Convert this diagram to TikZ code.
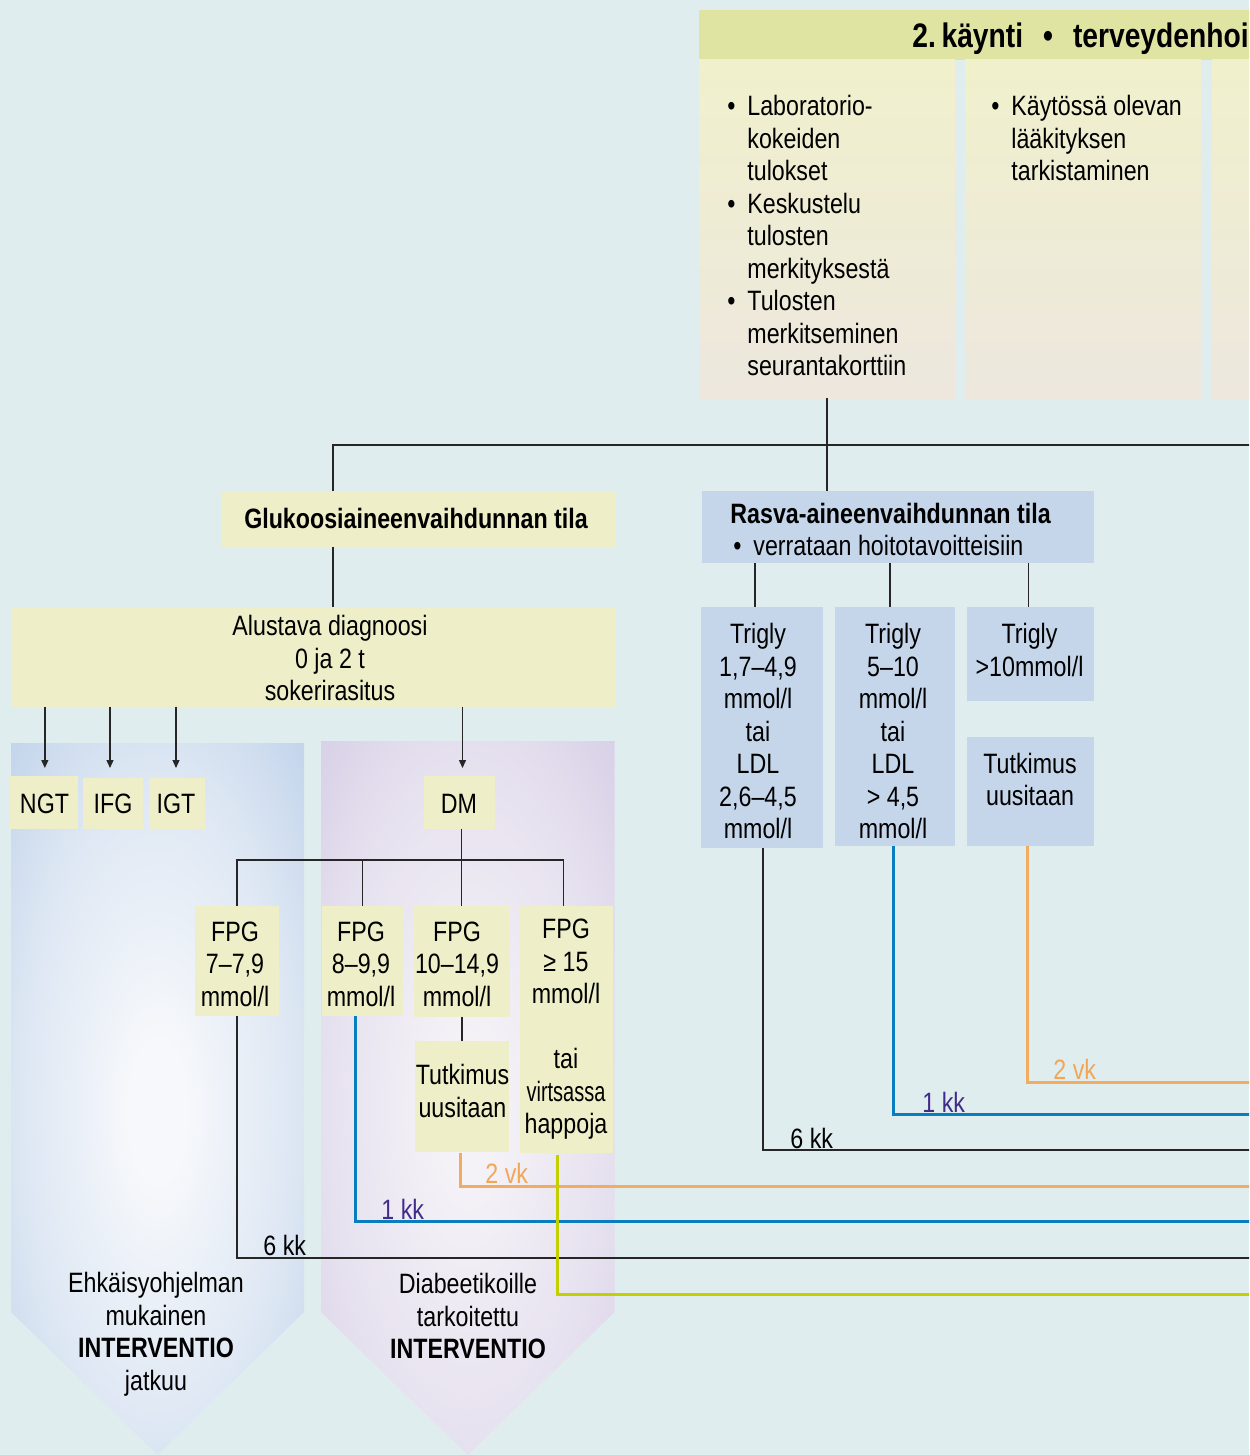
\documentclass[tikz,border=0pt]{standalone}
\usepackage{fontspec}
\usepackage{graphicx}
\setmainfont[FakeStretch=0.83]{Liberation Sans}
\usetikzlibrary{arrows.meta,fit,calc}
\definecolor{bg}{RGB}{224,237,238}
\definecolor{ybox}{RGB}{238,239,200}
\definecolor{bbox}{RGB}{197,214,234}
\definecolor{hdr}{RGB}{223,228,162}
\definecolor{coltop}{RGB}{240,240,204}
\definecolor{colbot}{RGB}{237,231,222}
\definecolor{lblue}{RGB}{10,125,190}
\definecolor{lorange}{RGB}{242,172,96}
\definecolor{lgreen}{RGB}{196,207,0}
\definecolor{kkpur}{RGB}{64,44,138}
\definecolor{vkor}{RGB}{242,166,86}
\definecolor{pbout}{RGB}{194,212,235}
\definecolor{pbin}{RGB}{246,248,251}
\colorlet{pbmid}{pbout!50!pbin}
\definecolor{ppout}{RGB}{216,208,231}
\definecolor{ppin}{RGB}{244,242,247}
\colorlet{ppmid}{ppout!50!ppin}
\pgfdeclareradialshading{blueglow}{\pgfpoint{0bp}{-1bp}}{color(0bp)=(pbin); color(5bp)=(pbin); color(24bp)=(pbmid); color(36bp)=(pbout); color(50bp)=(pbout)}
\pgfdeclareradialshading{purpleglow}{\pgfpoint{0bp}{-1bp}}{color(0bp)=(ppin); color(5bp)=(ppin); color(24bp)=(ppmid); color(36bp)=(ppout); color(50bp)=(ppout)}
\newcommand{\rfont}{\fontsize{14}{16.25}\selectfont}
\newcommand{\bul}{\makebox[10pt][l]{\textbullet}}
\newcommand{\ind}{\hspace*{10pt}}
\begin{document}
\begin{tikzpicture}[x=0.5pt,y=-0.5pt,
  box/.style={inner sep=0pt, outer sep=0pt, draw=none},
  ybx/.style={box, fill=ybox},
  bbx/.style={box, fill=bbox},
  colbox/.style={box, top color=coltop, bottom color=colbot},
  txt/.style={font=\rfont, align=center, inner sep=0pt, text=black, anchor=north},
  ltxt/.style={font=\rfont, align=left, inner sep=0pt, text=black, anchor=north west},
  ln/.style={draw=black!85, line width=0.65pt},
  arr/.style={ln, -{Triangle[length=4pt,width=3.5pt]}},
  blk/.style={draw=black!85, line width=0.75pt},
  blu/.style={draw=lblue, line width=1.5pt},
  org/.style={draw=lorange, line width=1.5pt},
  grn/.style={draw=lgreen, line width=1.5pt},
  lab/.style={font=\rfont, inner sep=0pt, anchor=base west}]

\useasboundingbox (0,0) rectangle (1249,1455);
\clip (0,0) rectangle (1249,1455);
\fill[bg] (0,0) rectangle (1249,1455);

% intervention arrows (pentagons)
\shade[shading=blueglow] (11,743) -- (304,743) -- (304,1312) -- (157.5,1455) -- (11,1312) -- cycle;
\shade[shading=purpleglow] (321,741) -- (614.5,741) -- (614.5,1312) -- (467.8,1455) -- (321,1312) -- cycle;

% header and columns
\node[box, fill=hdr, fit={(699,10) (1262,60)}] (hdr) {};
\node[colbox, fit={(699,60) (955,398)}] (col1) {};
\node[colbox, fit={(965,60) (1201,398)}] (col2) {};
\node[colbox, fit={(1212,60) (1262,398)}] (col3) {};

% glucose side
\node[ybx, fit={(222,491) (614.5,546.5)}] (gluk) {};
\node[ybx, fit={(11,606.5) (614.5,706.5)}] (alust) {};
\node[ybx, fit={(10,776) (77.7,828.7)}] (ngt) {};
\node[ybx, fit={(83,778) (143,828.7)}] (ifg) {};
\node[ybx, fit={(149,778) (205,828.7)}] (igt) {};
\node[ybx, fit={(424,776) (495,828.7)}] (dm) {};
\node[ybx, fit={(195,905.7) (279,1015.7)}] (fpga) {};
\node[ybx, fit={(321.7,905.7) (402.7,1015.7)}] (fpgb) {};
\node[ybx, fit={(414,905.7) (510,1016.7)}] (fpgc) {};
\node[ybx, fit={(520,905.7) (613.3,1153)}] (fpgd) {};
\node[ybx, fit={(415,1041) (509,1151.7)}] (tutl) {};

% lipid side
\node[bbx, fit={(701.8,491) (1094,563.3)}] (rasva) {};
\node[bbx, fit={(701,606.7) (823,847.7)}] (tra) {};
\node[bbx, fit={(835,606.7) (955,845.7)}] (trb) {};
\node[bbx, fit={(967,606.7) (1094,700.7)}] (trc) {};
\node[bbx, fit={(967,737) (1094,845.7)}] (tutr) {};

% black connectors
\coordinate (hl) at (333,445);
\coordinate (hr) at (1262,445);
\draw[ln] (col1.south) -- (col1.south |- rasva.north);
\draw[ln] (gluk.north -| hl) -- (hl) -- (hr);
\draw[ln] (gluk.south -| hl) -- (alust.north -| hl);
\foreach \n/\dx in {ngt/1, ifg/-3, igt/-1, dm/3}
  \draw[arr] ($(alust.south -| \n.north)+(\dx,0)$) -- ($(\n.north |- ngt.north)+(\dx,-8)$);
\coordinate (bar) at (461.7,860);
\coordinate (barr) at (563.3,860);
\draw[ln] (dm.south -| bar) -- (fpgc.north -| bar);
\draw[ln] (fpga.north) |- (barr) -- (barr |- fpgd.north);
\draw[ln] (fpgb.north) -- (fpgb.north |- bar);
\draw[ln] (fpgc.south) -- (tutl.north);
\foreach \n/\dx in {tra/-7, trb/-5, trc/-2}
  \draw[ln] ($(rasva.south -| \n.north)+(\dx,0)$) -- ($(\n.north)+(\dx,0)$);

% follow-up connectors
\coordinate (eA) at (1262,1258);
\coordinate (eB) at (1262,1221);
\coordinate (eC) at (1262,1186);
\coordinate (eD) at (1262,1294);
\coordinate (eE) at (1262,1150);
\coordinate (eF) at (1262,1114);
\coordinate (eG) at (1262,1082);
\draw[blk] (fpga.south) |- (eA);
\draw[blu] ($(fpgb.south)+(-7,0)$) |- (eB);
\draw[org] ($(tutl.south)+(-1.5,1.5)$) |- (eC);
\draw[grn] ($(fpgd.south)+(-9,1.5)$) |- (eD);
\draw[blk] ($(tra.south)+(1,0)$) |- (eE);
\draw[blu] ($(trb.south)+(-2,0)$) |- (eF);
\draw[org] ($(tutr.south)+(-3,0)$) |- (eG);

% texts
\node[font=\fontsize{17}{20}\selectfont\bfseries, inner sep=0pt, anchor=base west] (thdr) at (912,48) {2.\,käynti\hspace{10pt}•\hspace{10pt}terveydenhoi};
\node[ltxt] (tcol1) at (727,95) {\bul Laboratorio-\\\ind kokeiden\\\ind tulokset\\\bul Keskustelu\\\ind tulosten\\\ind merkityksestä\\\bul Tulosten\\\ind merkitseminen\\\ind seurantakorttiin};
\node[ltxt] (tcol2) at (991,95) {\bul Käytössä olevan\\\ind lääkityksen\\\ind tarkistaminen};
\node[txt, font=\rfont\bfseries] (tgluk) at (416,507.5) {Glukoosiaineenvaihdunnan tila};
\node[txt] (talust) at (330,615) {Alustava diagnoosi\\0 ja 2 t\\sokerirasitus};
\node[txt] (tngt) at (44.5,794) {NGT};
\node[txt] (tifg) at (113,794) {IFG};
\node[txt] (tigt) at (176,794) {IGT};
\node[txt] (tdm) at (459,793.5) {DM};
\node[txt] (tfpga) at (235,921.5) {FPG\\7–7,9\\mmol/l};
\node[txt] (tfpgb) at (361,921.5) {FPG\\8–9,9\\mmol/l};
\node[txt] (tfpgc) at (457,921.5) {FPG\\10–14,9\\mmol/l};
\node[txt] (tfpgd) at (566,919) {FPG\\≥ 15\\mmol/l\\[16.25pt]tai\\\scalebox{0.86}[1]{virtsassa}\\happoja};
\node[txt] (ttutl) at (462.5,1064) {Tutkimus\\uusitaan};
\node[ltxt] (trasva) at (730,502.5) {\textbf{Rasva-aineenvaihdunnan tila}\\\hspace*{1.5pt}\bul verrataan hoitotavoitteisiin};
\node[txt] (ttra) at (758,623) {Trigly\\1,7–4,9\\mmol/l\\tai\\LDL\\2,6–4,5\\mmol/l};
\node[txt] (ttrb) at (893,623) {Trigly\\5–10\\mmol/l\\tai\\LDL\\> 4,5\\mmol/l};
\node[txt] (ttrc) at (1029.5,623) {Trigly\\>10mmol/l};
\node[txt] (ttutr) at (1030,752.7) {Tutkimus\\uusitaan};
\node[txt] (tpa) at (156,1272) {Ehkäisyohjelman\\mukainen\\\textbf{INTERVENTIO}\\jatkuu};
\node[txt] (tpb) at (468,1273) {Diabeetikoille\\tarkoitettu\\\textbf{INTERVENTIO}};

% follow-up labels
\node[lab] (k6a) at (263,1255) {6 kk};
\node[lab, text=kkpur] (k1a) at (381,1219) {1 kk};
\node[lab, text=vkor] (v2a) at (485,1183) {2 vk};
\node[lab] (k6b) at (790,1148) {6 kk};
\node[lab, text=kkpur] (k1b) at (922,1112) {1 kk};
\node[lab, text=vkor] (v2b) at (1053,1079) {2 vk};
\end{tikzpicture}
\end{document}
